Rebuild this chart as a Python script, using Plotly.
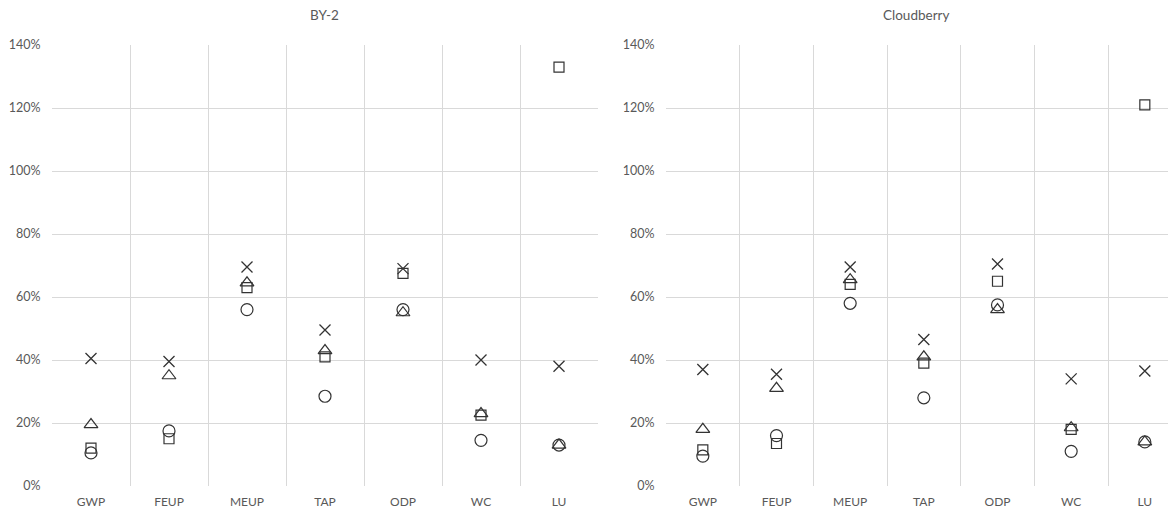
import plotly.graph_objects as go

categories = ["GWP", "FEUP", "MEUP", "TAP", "ODP", "WC", "LU"]

# BY-2 (values in %)
by2_cross = [40.5, 39.5, 69.5, 49.5, 69, 40, 38]
by2_triangle = [19.5, 35, 64.5, 43, 55, 23, 13]
by2_square = [12, 15, 63, 41, 67.5, 22.5, 133]
by2_circle = [10.5, 17.5, 56, 28.5, 56, 14.5, 13]

# Cloudberry (values in %)
cb_cross = [37, 35.5, 69.5, 46.5, 70.5, 34, 36.5]
cb_triangle = [18, 31, 65.5, 41, 56, 18.5, 14]
cb_square = [11.5, 13.5, 64, 39, 65, 18, 121]
cb_circle = [9.5, 16, 58, 28, 57.5, 11, 14]

y_ticks = [0, 20, 40, 60, 80, 100, 120, 140]
y_tick_text = [f"{v}%" for v in y_ticks]

W, H = 1168, 511
TOP, BOTTOM = 45, 25
INK = "#333333"
GRID = "#d9d9d9"
TEXT = "#595959"
FONT = "Lato, 'Open Sans', sans-serif"

idx = list(range(len(categories)))

symbols = {
    "cross": ("x-thin-open", 11, 1.3),
    "triangle": ("triangle-up-open", 12, 1.2),
    "square": ("square-open", 10, 1.2),
    "circle": ("circle-open", 12, 1.2),
}

fig = go.Figure()
panels = [
    ("x", "y", {"cross": by2_cross, "triangle": by2_triangle, "square": by2_square, "circle": by2_circle}),
    ("x2", "y2", {"cross": cb_cross, "triangle": cb_triangle, "square": cb_square, "circle": cb_circle}),
]
order = ["circle", "square", "triangle", "cross"]
for xa, ya, data in panels:
    for key in order:
        sym, size, lw = symbols[key]
        fig.add_trace(go.Scatter(
            x=idx, y=data[key], xaxis=xa, yaxis=ya, mode="markers",
            marker=dict(symbol=sym, size=size, color=INK, line=dict(color=INK, width=lw)),
            showlegend=False, hoverinfo="skip", cliponaxis=False,
        ))

bounds = [i - 0.5 for i in range(len(categories) + 1)]

def xaxis_cfg(domain, rng, minor_vals):
    return dict(
        domain=domain, range=rng, tickmode="array", tickvals=idx, ticktext=categories,
        showgrid=False, zeroline=False, showline=False,
        ticks="outside", ticklen=5, tickcolor="rgba(0,0,0,0)",
        tickfont=dict(family=FONT, size=12, color=TEXT),
        minor=dict(tickmode="array", tickvals=minor_vals, showgrid=True, gridcolor=GRID, gridwidth=1, ticks=""),
        automargin=False, fixedrange=True,
    )

def yaxis_cfg(anchor):
    return dict(
        domain=[0, 1], range=[0, 140], tickmode="array", tickvals=y_ticks, ticktext=y_tick_text,
        showgrid=True, gridcolor=GRID, gridwidth=1, zeroline=False, showline=False,
        ticks="outside", ticklen=8, tickcolor="rgba(0,0,0,0)",
        tickfont=dict(family=FONT, size=12.5, color=TEXT), anchor=anchor,
        automargin=False, fixedrange=True,
    )

left0, left1 = 52 / W, 598 / W
right0 = 666 / W
cat_w_right = (1108 - 666) / 6
right_end_val = -0.5 + (W - 666) / cat_w_right

plot_h = H - TOP - BOTTOM
title_y = (H - BOTTOM - 15) / plot_h

fig.update_layout(
    width=W, height=H,
    margin=dict(l=0, r=0, t=TOP, b=BOTTOM),
    paper_bgcolor="white", plot_bgcolor="white",
    xaxis=xaxis_cfg([left0, left1], [-0.5, 6.5], bounds),
    yaxis=yaxis_cfg("x"),
    xaxis2=xaxis_cfg([right0, 1.0], [-0.5, right_end_val], bounds[:-1]),
    yaxis2=yaxis_cfg("x2"),
    annotations=[
        dict(text="BY-2", x=325 / W, y=title_y, xref="paper", yref="paper", showarrow=False,
             xanchor="center", yanchor="middle", font=dict(family=FONT, size=13.5, color=TEXT)),
        dict(text="Cloudberry", x=916 / W, y=title_y, xref="paper", yref="paper", showarrow=False,
             xanchor="center", yanchor="middle", font=dict(family=FONT, size=13.5, color=TEXT)),
    ],
)

fig.write_html("out.html", config={"displayModeBar": False})
